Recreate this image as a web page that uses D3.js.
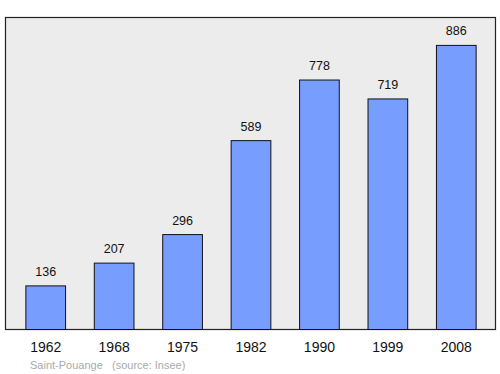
<!DOCTYPE html>
<html>
<head>
<meta charset="utf-8">
<script src="https://cdn.jsdelivr.net/npm/d3@7"></script>
<style>
  body { margin: 0; background: #fff; }
  text { font-family: "Liberation Sans", Arial, sans-serif; }
</style>
</head>
<body>
<svg id="chart"></svg>
<script>
// data
const years = ["1962", "1968", "1975", "1982", "1990", "1999", "2008"];
const population = [136, 207, 296, 589, 778, 719, 886];
const commune = "Saint-Pouange";
const source = "(source: Insee)";

const width = 500;
const height = 374;
const frame = { left: 5.5, top: 17.5, right: 495.5, bottom: 329.5 };

const svg = d3.select('svg#chart').attr('width', width).attr('height', height);

// background frame
svg.append('rect')
  .attr('x', frame.left).attr('y', frame.top)
  .attr('width', frame.right - frame.left).attr('height', frame.bottom - frame.top)
  .attr('fill', '#ececec').attr('stroke', '#222').attr('stroke-width', 1.2);

const x = d3.scaleBand().domain(years).range([11.5, 490.5]).paddingInner(0.42).paddingOuter(0.21);
const y = d3.scaleLinear().domain([0, 973]).range([frame.bottom, frame.top]);

const bars = svg.append('g');
bars.selectAll('rect').data(population).enter().append('rect')
  .attr('x', (d, i) => x(years[i]))
  .attr('y', d => y(d))
  .attr('width', x.bandwidth())
  .attr('height', d => y(0) - y(d))
  .attr('fill', '#779eff')
  .attr('stroke', '#111')
  .attr('stroke-width', 1);

// value labels
bars.selectAll('text').data(population).enter().append('text')
  .attr('x', (d, i) => x(years[i]) + x.bandwidth() / 2)
  .attr('y', d => y(d) - 10)
  .attr('text-anchor', 'middle')
  .attr('font-size', 12.5)
  .attr('fill', '#111')
  .text(d => d);

// year labels
svg.append('g').selectAll('text').data(years).enter().append('text')
  .attr('x', d => x(d) + x.bandwidth() / 2)
  .attr('y', 352)
  .attr('text-anchor', 'middle')
  .attr('font-size', 14)
  .attr('fill', '#111')
  .text(d => d);

// footer
svg.append('text').attr('x', 30).attr('y', 369).attr('font-size', 11).attr('fill', '#aaa').text(commune);
svg.append('text').attr('x', 112).attr('y', 369).attr('font-size', 11).attr('fill', '#aaa').text(source);
</script>
</body>
</html>
